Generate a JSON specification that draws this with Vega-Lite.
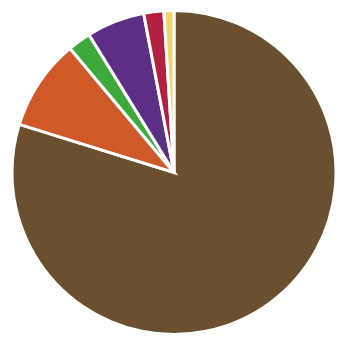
{
  "$schema": "https://vega.github.io/schema/vega-lite/v6.json",
  "width": 324,
  "height": 325,
  "padding": {"left": 6, "top": 4, "right": 8, "bottom": 12},
  "background": "white",
  "view": {"stroke": null},
  "data": {"values": [
    {"category": "A", "order": 1, "value": 79.8},
    {"category": "B", "order": 2, "value": 9.1},
    {"category": "C", "order": 3, "value": 2.3},
    {"category": "D", "order": 4, "value": 5.8},
    {"category": "E", "order": 5, "value": 2.0},
    {"category": "F", "order": 6, "value": 1.0}
  ]},
  "mark": {"type": "arc", "stroke": "white", "strokeWidth": 3},
  "encoding": {
    "theta": {"field": "value", "type": "quantitative", "stack": true},
    "order": {"field": "order", "type": "quantitative"},
    "color": {
      "field": "category", "type": "nominal", "legend": null,
      "scale": {"domain": ["A", "B", "C", "D", "E", "F"],
                "range": ["#6b5030", "#d0592a", "#3ea83a", "#5b2f84", "#b1203f", "#efd66a"]}
    }
  }
}
